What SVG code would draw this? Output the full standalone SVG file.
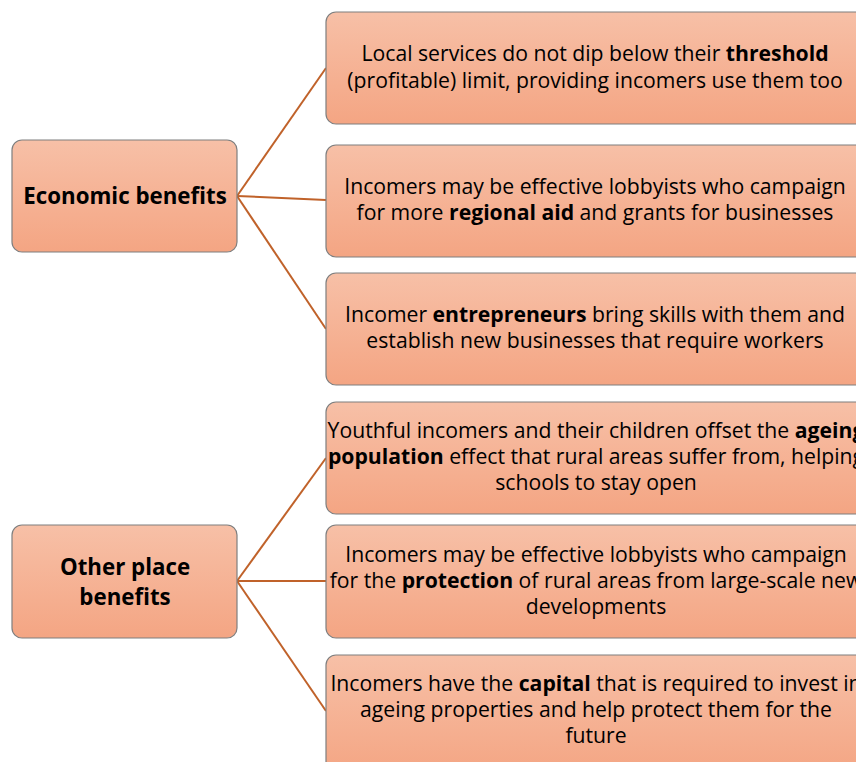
<svg xmlns="http://www.w3.org/2000/svg" width="856" height="762" viewBox="0 0 856 762">
<defs>
<linearGradient id="g" x1="0" y1="0" x2="0" y2="1">
<stop offset="0" stop-color="#F7C0A7"/>
<stop offset="1" stop-color="#F4A583"/>
</linearGradient>
<style>
.box{fill:url(#g);stroke:#7F7F7F;stroke-width:1.2}
.t{font-family:"Open Sans","Liberation Sans",Arial,sans-serif;font-size:21.2px;fill:#000;text-anchor:middle}
.h{font-family:"Open Sans","Liberation Sans",Arial,sans-serif;font-size:22.3px;font-weight:bold;fill:#000;text-anchor:middle}
.b{font-weight:bold}
.c{stroke:#C0622A;stroke-width:2;fill:none}
</style>
</defs>
<rect width="856" height="762" fill="#fff"/>
<g id="connectors">
<line class="c" x1="237" y1="196" x2="326" y2="68"/>
<line class="c" x1="237" y1="196" x2="326" y2="200"/>
<line class="c" x1="237" y1="196" x2="326" y2="329"/>
<line class="c" x1="237" y1="581" x2="326" y2="458"/>
<line class="c" x1="237" y1="581" x2="326" y2="581"/>
<line class="c" x1="237" y1="581" x2="326" y2="711"/>
</g>
<g id="economic">
<rect class="box" x="12" y="140" width="225" height="112" rx="10"/>
<text class="h" x="125" y="204">Economic benefits</text>
</g>
<g id="other">
<rect class="box" x="12" y="525" width="225" height="113" rx="10"/>
<text class="h" x="125" y="575">Other place</text>
<text class="h" x="125" y="605">benefits</text>
</g>
<g id="n1">
<rect class="box" x="326" y="12" width="540" height="112" rx="10"/>
<text class="t" x="595" y="61">Local services do not dip below their <tspan class="b">threshold</tspan></text>
<text class="t" x="595" y="88">(profitable) limit, providing incomers use them too</text>
</g>
<g id="n2">
<rect class="box" x="326" y="145" width="540" height="112" rx="10"/>
<text class="t" x="595" y="194">Incomers may be effective lobbyists who campaign</text>
<text class="t" x="595" y="220">for more <tspan class="b">regional aid</tspan> and grants for businesses</text>
</g>
<g id="n3">
<rect class="box" x="326" y="273" width="540" height="112" rx="10"/>
<text class="t" x="595" y="322">Incomer <tspan class="b">entrepreneurs</tspan>  bring skills with them and</text>
<text class="t" x="595" y="348">establish new businesses that require workers</text>
</g>
<g id="n4">
<rect class="box" x="326" y="402" width="540" height="112" rx="10"/>
<text class="t" x="596" y="438">Youthful incomers and their children offset the <tspan class="b">ageing</tspan></text>
<text class="t" x="596" y="464"><tspan class="b">population</tspan> effect that rural areas suffer from, helping</text>
<text class="t" x="596" y="490">schools to stay open</text>
</g>
<g id="n5">
<rect class="box" x="326" y="525" width="540" height="113" rx="10"/>
<text class="t" x="596" y="562">Incomers may be effective lobbyists who campaign</text>
<text class="t" x="596" y="588">for the <tspan class="b">protection</tspan> of rural areas from large-scale new</text>
<text class="t" x="596" y="614">developments</text>
</g>
<g id="n6">
<rect class="box" x="326" y="655" width="540" height="120" rx="10"/>
<text class="t" x="596" y="691">Incomers have the <tspan class="b">capital</tspan> that is required to invest in</text>
<text class="t" x="596" y="717">ageing properties and help protect them for the</text>
<text class="t" x="596" y="743">future</text>
</g>
</svg>
